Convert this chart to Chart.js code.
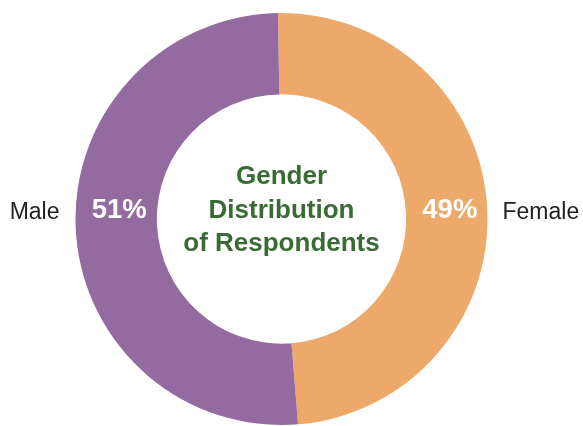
<!DOCTYPE html>
<html>
<head>
<meta charset="utf-8">
<title>Gender Distribution of Respondents</title>
<script src="https://cdn.jsdelivr.net/npm/chart.js@4.4.0/dist/chart.umd.min.js"></script>
<style>
  html, body { margin: 0; padding: 0; background: #ffffff; }
  #wrap { width: 583px; height: 426px; }
</style>
</head>
<body>
<div id="wrap"><canvas id="genderChart" width="583" height="426"></canvas></div>
<script>
const categories = ["Female", "Male"];
const shares = [49, 51];
const sliceColors = ["#eca96a", "#946ba0"];
const centerTitle = ["Gender", "Distribution", "of Respondents"];

const FONT = "'Liberation Sans', Arial, Helvetica, sans-serif";

// side labels + percentages + title in the hole
const donutText = {
  id: "donutText",
  afterDatasetsDraw(chart) {
    const ctx = chart.ctx;
    const arc = chart.getDatasetMeta(0).data[0];
    if (!arc) return;
    const cx = arc.x;
    const cy = arc.y;
    const outer = arc.outerRadius;
    const inner = arc.innerRadius;
    const mid = (outer + inner) / 2;

    ctx.save();
    ctx.textBaseline = "alphabetic";

    // category names outside the ring
    ctx.fillStyle = "#222222";
    ctx.font = `23px ${FONT}`;
    ctx.textAlign = "right";
    ctx.fillText(categories[1], cx - outer - 16, cy);
    ctx.textAlign = "left";
    ctx.fillText(categories[0], cx + outer + 15, cy);

    // percentages on the ring
    ctx.fillStyle = "#ffffff";
    ctx.font = `bold 27.5px ${FONT}`;
    ctx.textAlign = "center";
    ctx.fillText(`${shares[1]}%`, cx - mid + 3, cy - 1);
    ctx.fillText(`${shares[0]}%`, cx + mid + 3, cy - 1);

    // title in the middle
    ctx.fillStyle = "#3b6b35";
    ctx.font = `bold 26px ${FONT}`;
    const baselines = [-35, -1, 32];
    centerTitle.forEach((line, i) => {
      ctx.fillText(line, cx, cy + baselines[i]);
    });
    ctx.restore();
  },
};

new Chart(document.getElementById("genderChart"), {
  type: "doughnut",
  data: {
    labels: categories,
    datasets: [
      {
        data: shares,
        backgroundColor: sliceColors,
        borderWidth: 0,
      },
    ],
  },
  options: {
    responsive: false,
    animation: false,
    cutout: "60.5%",
    rotation: -1,
    layout: {
      padding: { top: 13, bottom: 1, left: 0, right: 20 },
    },
    plugins: {
      legend: { display: false },
      tooltip: { enabled: false },
    },
  },
  plugins: [donutText],
});
</script>
</body>
</html>
